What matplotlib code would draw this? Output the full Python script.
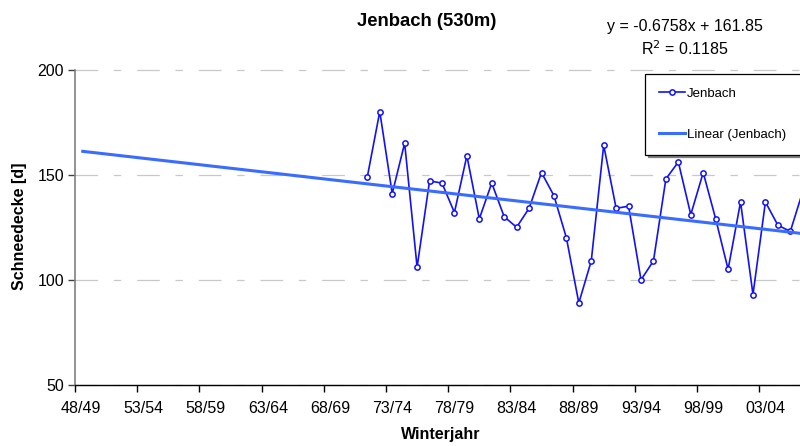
import matplotlib
matplotlib.use("Agg")
import matplotlib.pyplot as plt
from matplotlib.lines import Line2D
import numpy as np

plt.rcParams['font.family'] = ['Liberation Sans', 'DejaVu Sans']
plt.rcParams['lines.scale_dashes'] = False

# ---- data ----
winters = [f"{(48 + k) % 100:02d}/{(49 + k) % 100:02d}" for k in range(59)]
start_index = 24  # first winter with data (71/72), 1-based category index
jenbach = [149, 180, 141, 165, 106, 147, 146, 132, 159, 129, 146, 130, 125, 134,
           151, 140, 120, 89, 109, 164, 134, 135, 100, 109, 148, 156, 131, 151,
           129, 105, 137, 93, 137, 126, 123, 142]
trend_slope = -0.6758
trend_intercept = 161.85
r_squared = 0.1185
label_every = 5
y_ticks = [50, 100, 150, 200]

# ---- figure ----
W, H = 800, 446
fig = plt.figure(figsize=(W / 100, H / 100), dpi=100)
ax = fig.add_axes([75 / W, 1 - 385 / H, 1 - 75 / W, (385 - 69.5) / H])

cat_idx = np.arange(1, len(winters) + 1)
x_data = np.arange(start_index, start_index + len(jenbach))

ax.plot(x_data, jenbach, color='#1212f2', lw=1.2, marker='o', ms=3.8,
        mfc='white', mec='#1212f2', mew=1.1, zorder=3)
trend = trend_slope * cat_idx + trend_intercept
ax.plot(cat_idx, trend, color='#3a6cff', lw=2.2, zorder=4, solid_capstyle='butt')

ax.set_xlim(0.5, 0.5 + 725 / 12.44)
ax.set_ylim(50, 200)

# x axis: ticks at category boundaries every 5, labels centered on categories
ax.set_xticks(np.arange(0.5, len(winters) + 1, label_every))
ax.set_xticklabels([])
ax.set_xticks(cat_idx[::label_every], minor=True)
ax.set_xticklabels(winters[::label_every], minor=True)
ax.tick_params(axis='x', which='major', length=5, width=1, color='black', direction='out')
ax.tick_params(axis='x', which='minor', length=0, pad=11.5, labelsize=11.5)

ax.set_yticks(y_ticks)
ax.tick_params(axis='y', length=5, width=1, color='#404040', direction='out',
               pad=3, labelsize=11.5)

for s in ['top', 'right']:
    ax.spines[s].set_visible(False)
ax.spines['left'].set_color('#808080')
ax.spines['left'].set_linewidth(1.2)
ax.spines['bottom'].set_color('black')
ax.spines['bottom'].set_linewidth(1.0)

ax.yaxis.grid(True, color='#c8c8c8', lw=0.9, linestyle=(0, (16.3, 11.3, 5.3, 11.5)))
ax.set_axisbelow(True)
for gl in ax.get_ygridlines():
    gl.set_clip_on(False)

# texts
fig.text(426.7 / W, 1 - 21 / H, "Jenbach (530m)", ha='center', va='center',
         fontsize=13.3, fontweight='bold')
fig.text(685 / W, 1 - 27 / H, f"y = {trend_slope}x + {trend_intercept}",
         ha='center', va='center', fontsize=11.5)
fig.text(685 / W, 1 - 48.5 / H, f"R$^2$ = {r_squared}", ha='center', va='center',
         fontsize=11.5)
fig.text(19.5 / W, 1 - 226.5 / H, "Schneedecke [d]", rotation=90, ha='center',
         va='center', fontsize=11.5, fontweight='bold')
fig.text(441 / W, 1 - 434 / H, "Winterjahr", ha='center', va='center',
         fontsize=11.5, fontweight='bold')

# legend
handles = [
    Line2D([], [], color='#1212f2', lw=1.2, marker='o', ms=3.8, mfc='white',
           mec='#1212f2', mew=1.1),
    Line2D([], [], color='#3a6cff', lw=2.2),
]
leg = fig.legend(handles, ["Jenbach", "Linear (Jenbach)"], loc='upper left',
                 bbox_to_anchor=(645 / W, 1 - 74 / H, 200 / W, 0),
                 bbox_transform=fig.transFigure, mode='expand',
                 fontsize=9.5, frameon=True, fancybox=False,
                 shadow={'color': '#808080', 'alpha': 1.0},
                 borderpad=1.05, labelspacing=2.15, handlelength=2.0,
                 handletextpad=0.15, borderaxespad=0, numpoints=1)
leg.get_frame().set_edgecolor('black')
leg.get_frame().set_linewidth(0.9)

fig.savefig("out.png", dpi=100)
